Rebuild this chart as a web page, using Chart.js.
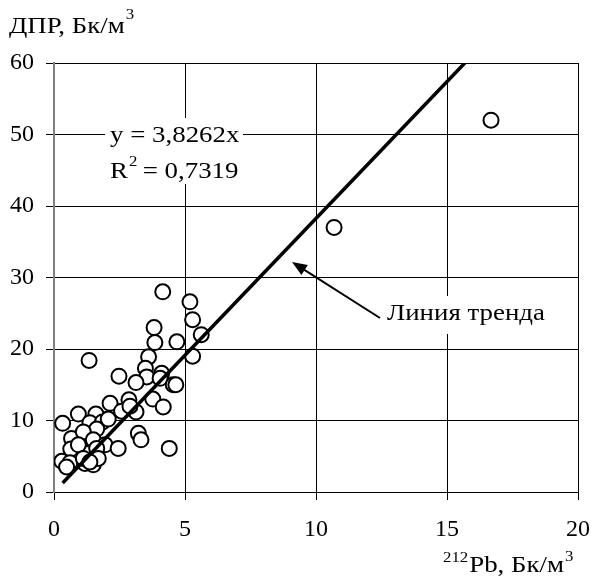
<!DOCTYPE html>
<html>
<head>
<meta charset="utf-8">
<script src="https://cdn.jsdelivr.net/npm/chart.js@4.4.1/dist/chart.umd.min.js"></script>
<style>
  html, body { margin: 0; padding: 0; background: #fff; }
  #wrap { width: 595px; height: 582px; }
</style>
</head>
<body>
<div id="wrap"><canvas id="chart" width="595" height="582"></canvas></div>
<script>
// measured points: 212Pb (x) vs ДПР (y), Бк/м3
const pbValues = [16.68, 10.69, 4.15, 5.19, 5.29, 3.82, 5.62, 3.85, 4.69, 1.34, 5.29, 3.61,
  3.49, 4.11, 3.54, 2.48, 3.13, 4.05, 4.55, 4.65, 3.77, 4.17, 2.86, 3.13, 2.14, 2.58,
  0.93, 1.60, 0.33, 1.37, 1.85, 2.07, 1.63, 0.67, 1.12, 1.50, 3.22, 3.32, 1.95, 2.45,
  4.40, 0.64, 1.25, 0.93, 1.63, 0.30, 0.61, 1.18, 1.50, 0.48, 1.12, 1.69, 1.37, 2.90];
const dprValues = [52.0, 37.0, 28.0, 26.6, 24.1, 23.0, 22.0, 20.9, 21.0, 18.4, 19.0, 18.9,
  17.3, 16.6, 16.1, 16.2, 15.3, 15.9, 15.0, 15.0, 13.0, 11.9, 12.9, 11.2, 12.4, 11.3,
  10.9, 10.9, 9.6, 9.7, 9.8, 10.2, 8.8, 7.5, 8.4, 7.3, 8.2, 7.3, 6.6, 6.1,
  6.1, 6.0, 5.4, 6.6, 6.1, 4.3, 4.1, 4.0, 3.8, 3.5, 4.7, 4.7, 4.2, 12.0];

// trend line y = 3,8262x, ends
const trendX = [0.33, 15.68];
const trendY = [1.26, 60];

const xTicks = [0, 5, 10, 15, 20];
const yTicks = [0, 10, 20, 30, 40, 50, 60];

const FONT = '"Liberation Serif", "Times New Roman", serif';
const SX = 1.12; // reference text is a bit wider than the font

// draw text stretched horizontally, returns drawn width
function txt(ctx, s, x, y, size) {
  ctx.save();
  ctx.font = size + 'px ' + FONT;
  ctx.translate(x, y);
  ctx.scale(SX, 1);
  ctx.fillText(s, 0, 0);
  const w = ctx.measureText(s).width * SX;
  ctx.restore();
  return w;
}

const overlay = {
  id: 'overlay',
  afterDatasetsDraw(chart) {
    const ctx = chart.ctx;
    ctx.save();
    ctx.textBaseline = 'alphabetic';
    ctx.textAlign = 'left';

    // equation box
    ctx.fillStyle = '#fff';
    ctx.fillRect(105, 118, 138, 66);
    ctx.fillStyle = '#000';
    txt(ctx, 'y = 3,8262x', 110, 142, 24);
    let w = txt(ctx, 'R', 110, 178, 24);
    txt(ctx, '2', 110 + w + 1, 166, 15);
    txt(ctx, ' = 0,7319', 110 + w + 8, 178, 24);

    // trend label
    ctx.fillStyle = '#fff';
    ctx.fillRect(382, 296, 168, 38);
    ctx.fillStyle = '#000';
    txt(ctx, 'Линия тренда', 387, 320, 24);

    // arrow
    const x1 = 380, y1 = 318, x2 = 292, y2 = 262;
    const ang = Math.atan2(y2 - y1, x2 - x1);
    ctx.strokeStyle = '#000';
    ctx.lineWidth = 2;
    ctx.beginPath();
    ctx.moveTo(x1, y1);
    ctx.lineTo(x2 - 10 * Math.cos(ang), y2 - 10 * Math.sin(ang));
    ctx.stroke();
    ctx.beginPath();
    ctx.moveTo(x2, y2);
    ctx.lineTo(x2 - 15 * Math.cos(ang) + 6 * Math.sin(ang), y2 - 15 * Math.sin(ang) - 6 * Math.cos(ang));
    ctx.lineTo(x2 - 15 * Math.cos(ang) - 6 * Math.sin(ang), y2 - 15 * Math.sin(ang) + 6 * Math.cos(ang));
    ctx.closePath();
    ctx.fill();

    // y axis title
    w = txt(ctx, 'ДПР, Бк/м', 9, 33, 24);
    txt(ctx, '3', 9 + w + 1, 19, 15);

    // x axis title
    const w2 = txt(ctx, '212', 443, 562, 15);
    w = txt(ctx, 'Pb, Бк/м', 443 + w2 + 1, 572, 24);
    txt(ctx, '3', 443 + w2 + 1 + w + 1, 561, 15);
    ctx.restore();
  }
};

new Chart(document.getElementById('chart').getContext('2d'), {
  type: 'scatter',
  data: {
    datasets: [
      {
        type: 'line',
        data: trendX.map((x, i) => ({ x, y: trendY[i] })),
        borderColor: '#000',
        borderWidth: 3.5,
        pointRadius: 0,
        fill: false,
        order: 0
      },
      {
        data: pbValues.map((x, i) => ({ x, y: dprValues[i] })),
        pointRadius: 7.5,
        pointBorderWidth: 2,
        pointBorderColor: '#000',
        pointBackgroundColor: '#fff',
        order: 1
      }
    ]
  },
  options: {
    responsive: false,
    animation: false,
    devicePixelRatio: 1,
    layout: { padding: { top: 63, right: 17, left: 0, bottom: 0 } },
    plugins: { legend: { display: false }, tooltip: { enabled: false } },
    scales: {
      x: {
        type: 'linear', min: 0, max: 20,
        afterFit: s => { s.height = 90; s.paddingLeft = 0; s.paddingRight = 0; },
        afterBuildTicks: s => { s.ticks = xTicks.map(v => ({ value: v })); },
        grid: { color: '#000', lineWidth: 1, tickLength: 8, drawTicks: true },
        border: { color: '#000', width: 1 },
        ticks: { color: '#000', padding: 15, maxRotation: 0, font: { family: FONT, size: 24 } }
      },
      y: {
        min: 0, max: 60,
        afterFit: s => { s.width = 54; s.paddingTop = 0; s.paddingBottom = 0; },
        afterBuildTicks: s => { s.ticks = yTicks.map(v => ({ value: v })); },
        grid: { color: '#000', lineWidth: 1, tickLength: 8, drawTicks: true },
        border: { color: '#808080', width: 2 },
        ticks: { color: '#000', padding: 12, font: { family: FONT, size: 24 } }
      }
    }
  },
  plugins: [overlay]
});
</script>
</body>
</html>
